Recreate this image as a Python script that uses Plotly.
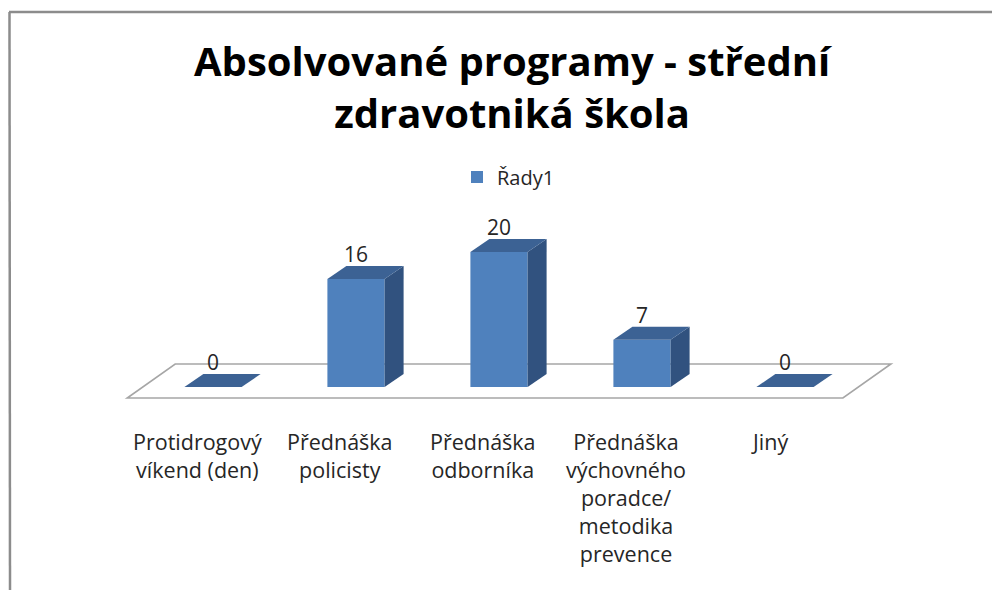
import plotly.graph_objects as go

categories = [
    "Protidrogový<br>víkend (den)",
    "Přednáška<br>policisty",
    "Přednáška<br>odborníka",
    "Přednáška<br>výchovného<br>poradce/<br>metodika<br>prevence",
    "Jiný",
]
values = [0, 16, 20, 7, 0]
series_name = "Řady1"
title = "Absolvované programy - střední<br>zdravotniká škola"

FONT = "Open Sans, Lato, sans-serif"
TXT = "#262626"
FRONT = "#4F81BD"
TOP = "#3C6294"
SIDE = "#31527F"

# page pixels (the page body adds an 8px offset around the figure)
OFF = 8
W, H = 1000 - OFF, 590 - OFF
x0_px, x_step = 213, 143      # page pixel of category 0, pixels per category
y0_px, y_step = 387, 6.75     # page pixel of value 0, pixels per unit
top_px, bot_px = 130, 590
left_px, right_px = 60, 960


def px(p):
    return (p - left_px) / (right_px - left_px)


def py(p):
    return (bot_px - p) / (bot_px - top_px)


bar_w = 0.40
ddx, ddy = 19 / x_step, 13 / y_step          # bar depth offset
floor_front, floor_back = -11 / y_step, 23 / y_step
floor_l, floor_r = -0.60, 4.405
floor_dx = 48 / x_step

xr = [(left_px - x0_px) / x_step, (right_px - x0_px) / x_step]
yr = [(y0_px - bot_px) / y_step, (y0_px - top_px) / y_step]

fig = go.Figure()

# floor, drawn below the bars
floor_pts = [(floor_l, floor_front), (floor_r, floor_front),
             (floor_r + floor_dx, floor_back), (floor_l + floor_dx, floor_back)]
fig.add_shape(
    type="path", xref="x", yref="y", layer="below",
    path="M " + " L ".join(f"{x},{y}" for x, y in floor_pts) + " Z",
    line=dict(color="#A6A6A6", width=1.6), fillcolor="white",
)

# front faces
fig.add_bar(
    x=list(range(len(values))), y=values, width=bar_w, name=series_name,
    marker=dict(color=FRONT, line=dict(width=0)),
)

# side and top faces
for i, v in enumerate(values):
    l, r = i - bar_w / 2, i + bar_w / 2
    if v > 0:
        fig.add_scatter(
            x=[r, r + ddx, r + ddx, r, r], y=[0, ddy, v + ddy, v, 0],
            mode="lines", line=dict(width=0), fill="toself", fillcolor=SIDE,
            hoverinfo="skip", showlegend=False,
        )
    fig.add_scatter(
        x=[l, r, r + ddx, l + ddx, l], y=[v, v, v + ddy, v + ddy, v],
        mode="lines", line=dict(width=0), fill="toself", fillcolor=TOP,
        hoverinfo="skip", showlegend=False,
    )

# value labels
fig.add_scatter(
    x=list(range(len(values))), y=[v + ddy + 1.35 for v in values],
    mode="text", text=[str(v) for v in values],
    textfont=dict(family=FONT, size=21, color=TXT),
    textposition="middle center", hoverinfo="skip", showlegend=False,
)

for i, c in enumerate(categories):
    fig.add_annotation(
        x=i - 0.11, y=(y0_px - 425) / y_step, xref="x", yref="y",
        text=c, showarrow=False, yanchor="top", xanchor="center",
        align="center", font=dict(family=FONT, size=21.5, color=TXT),
    )

fig.add_annotation(
    x=px(513), y=py(86.5), xref="paper", yref="paper", text=f"<b>{title}</b>",
    showarrow=False, xanchor="center", yanchor="middle", align="center",
    font=dict(family=FONT, size=40, color="black"),
)

fig.update_layout(
    width=W, height=H,
    margin=dict(l=left_px - OFF, r=W - (right_px - OFF), t=top_px - OFF, b=H - (bot_px - OFF)),
    paper_bgcolor="white", plot_bgcolor="white",
    showlegend=True,
    legend=dict(
        orientation="h", x=px(478 - 21), xanchor="left", y=py(177), yanchor="middle",
        font=dict(family=FONT, size=20, color=TXT), bgcolor="rgba(0,0,0,0)",
    ),
    xaxis=dict(range=xr, visible=False, fixedrange=True),
    yaxis=dict(range=yr, visible=False, fixedrange=True),
)

# outer frame (scanned chart border)
frame = dict(color="#8C8C8C", width=2.5)
fig.add_shape(type="line", xref="paper", yref="paper",
              x0=px(9), x1=px(999), y0=py(12), y1=py(12), line=frame)
fig.add_shape(type="line", xref="paper", yref="paper",
              x0=px(9.5), x1=px(10), y0=py(12), y1=py(590), line=frame)

fig.write_html("out.html")
